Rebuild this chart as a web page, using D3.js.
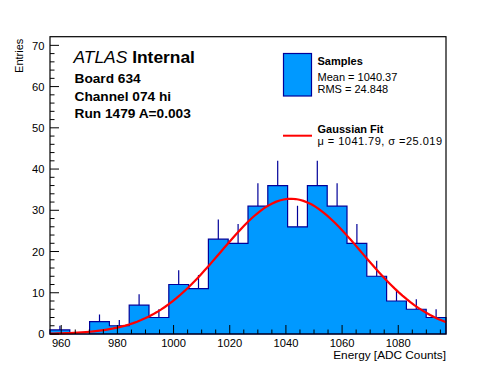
<!DOCTYPE html>
<html>
<head>
<meta charset="utf-8">
<script src="https://cdn.jsdelivr.net/npm/d3@7"></script>
<style>
  body { margin: 0; background: #fff; }
  text { font-family: "Liberation Sans", Arial, Helvetica, sans-serif; fill: #000; }
</style>
</head>
<body>
<div id="chart"></div>
<script>
"use strict";

// histogram range and counts (20 bins)
var xRange = [956, 1097];
var counts = [1, 0, 3, 2, 7, 4, 12, 11, 23, 22, 31, 36, 26, 36, 31, 22, 14, 8, 6, 4];

// gaussian fit parameters
var fitMean = 1041.79,
    fitSigma = 25.019,
    fitAmp = 32.8;

var xMajorTicks = [960, 980, 1000, 1020, 1040, 1060, 1080];
var yMajorTicks = [0, 10, 20, 30, 40, 50, 60, 70];

var infoLines = ["Board 634", "Channel 074 hi", "Run 1479 A=0.003"];
var statLines = ["Mean = 1040.37", "RMS = 24.848"];
var fitLine = "\u03bc = 1041.79, \u03c3 =25.019";

var W = 496, H = 372;
var padL = 50, padR = 446, padT = 36.7, padB = 334;

var fill = "#0099ff", edge = "#000099";

var svg = d3.select("#chart").append("svg")
    .attr("width", W)
    .attr("height", H);

var x = d3.scaleLinear().domain(xRange).range([padL, padR]);
var y = d3.scaleLinear().domain([0, 72.1]).range([padB, padT]);

var binW = (xRange[1] - xRange[0]) / counts.length;
var bins = counts.map(function(c, i) {
  return { x0: xRange[0] + i * binW, x1: xRange[0] + (i + 1) * binW, n: c };
});

var g = svg.append("g");

// error bars (lower half ends up under the fill)
g.selectAll("line.err")
  .data(bins)
  .enter()
  .append("line")
  .attr("x1", function(d) { return x((d.x0 + d.x1) / 2); })
  .attr("x2", function(d) { return x((d.x0 + d.x1) / 2); })
  .attr("y1", function(d) { return y(d.n); })
  .attr("y2", function(d) { return y(d.n + Math.sqrt(d.n)); })
  .attr("stroke", edge)
  .attr("stroke-width", 1.2);

// histogram as one step path
var pts = [[bins[0].x0, 0]];
bins.forEach(function(d) {
  pts.push([d.x0, d.n]);
  pts.push([d.x1, d.n]);
});
pts.push([bins[bins.length - 1].x1, 0]);
g.append("path")
  .attr("d", d3.line().x(function(p) { return x(p[0]); }).y(function(p) { return y(p[1]); })(pts) + "Z")
  .attr("fill", fill)
  .attr("stroke", edge)
  .attr("stroke-width", 1.2);

// gaussian fit curve
var fx = d3.range(0, 101).map(function(i) { return xRange[0] + i * (xRange[1] - xRange[0]) / 100; });
g.append("path")
  .attr("d", d3.line()
    .x(function(v) { return x(v); })
    .y(function(v) { return y(fitAmp * Math.exp(-0.5 * Math.pow((v - fitMean) / fitSigma, 2))); })(fx))
  .attr("fill", "none")
  .attr("stroke", "#ff0000")
  .attr("stroke-width", 2.2);

// frame
svg.append("rect")
  .attr("x", padL)
  .attr("y", padT)
  .attr("width", padR - padL)
  .attr("height", padB - padT)
  .attr("fill", "none")
  .attr("stroke", "#000")
  .attr("stroke-width", 1.2);

// x axis ticks
var xMinor = d3.range(960, xRange[1], 5);
svg.append("g").selectAll("line")
  .data(xMinor)
  .enter()
  .append("line")
  .attr("x1", function(d) { return x(d); })
  .attr("x2", function(d) { return x(d); })
  .attr("y1", padB)
  .attr("y2", function(d) { return padB - (d % 20 === 0 ? 9 : 4.5); })
  .attr("stroke", "#000");

svg.append("g").selectAll("text")
  .data(xMajorTicks)
  .enter()
  .append("text")
  .attr("x", function(d) { return x(d); })
  .attr("y", 346.5)
  .attr("text-anchor", "middle")
  .attr("font-size", "11.2px")
  .text(function(d) { return d; });

// y axis ticks
var yMinor = d3.range(0, 72, 2);
svg.append("g").selectAll("line")
  .data(yMinor)
  .enter()
  .append("line")
  .attr("x1", padL)
  .attr("x2", function(d) { return padL + (d % 10 === 0 ? 9 : 4.5); })
  .attr("y1", function(d) { return y(d); })
  .attr("y2", function(d) { return y(d); })
  .attr("stroke", "#000");

svg.append("g").selectAll("text")
  .data(yMajorTicks)
  .enter()
  .append("text")
  .attr("x", 44.5)
  .attr("y", function(d) { return y(d) + 4.2; })
  .attr("text-anchor", "end")
  .attr("font-size", "11.2px")
  .text(function(d) { return d; });

// axis titles
svg.append("text")
  .attr("transform", "translate(23," + (padT + 2) + ") rotate(-90)")
  .attr("text-anchor", "end")
  .attr("font-size", "11px")
  .text("Entries");

svg.append("text")
  .attr("x", padR)
  .attr("y", 358.5)
  .attr("text-anchor", "end")
  .attr("font-size", "11.8px")
  .text("Energy [ADC Counts]");

// ATLAS label
var atlas = svg.append("text")
  .attr("x", 73.5)
  .attr("y", 63.3)
  .attr("font-size", "17.4px");
atlas.append("tspan").attr("font-style", "italic").text("ATLAS");
atlas.append("tspan").attr("font-weight", "bold").text(" Internal");

svg.append("g").selectAll("text")
  .data(infoLines)
  .enter()
  .append("text")
  .attr("x", 74.5)
  .attr("y", function(d, i) { return 83.3 + i * 17.5; })
  .attr("font-size", "13.7px")
  .attr("font-weight", "bold")
  .text(function(d) { return d; });

// legend
svg.append("rect")
  .attr("x", 283.5)
  .attr("y", 53.5)
  .attr("width", 28)
  .attr("height", 42.5)
  .attr("fill", fill)
  .attr("stroke", edge)
  .attr("stroke-width", 1.2);

svg.append("text")
  .attr("x", 317.5)
  .attr("y", 65)
  .attr("font-size", "11px")
  .attr("font-weight", "bold")
  .text("Samples");

svg.append("g").selectAll("text")
  .data(statLines)
  .enter()
  .append("text")
  .attr("x", 317.5)
  .attr("y", function(d, i) { return 80.5 + i * 12.7; })
  .attr("font-size", "11px")
  .text(function(d) { return d; });

svg.append("line")
  .attr("x1", 283)
  .attr("x2", 312)
  .attr("y1", 135.7)
  .attr("y2", 135.7)
  .attr("stroke", "#ff0000")
  .attr("stroke-width", 2);

svg.append("text")
  .attr("x", 317.5)
  .attr("y", 132.5)
  .attr("font-size", "11px")
  .attr("font-weight", "bold")
  .text("Gaussian Fit");

svg.append("text")
  .attr("x", 317.5)
  .attr("y", 144.5)
  .attr("font-size", "11px")
  .attr("textLength", 124.5)
  .attr("lengthAdjust", "spacing")
  .text(fitLine);
</script>
</body>
</html>
